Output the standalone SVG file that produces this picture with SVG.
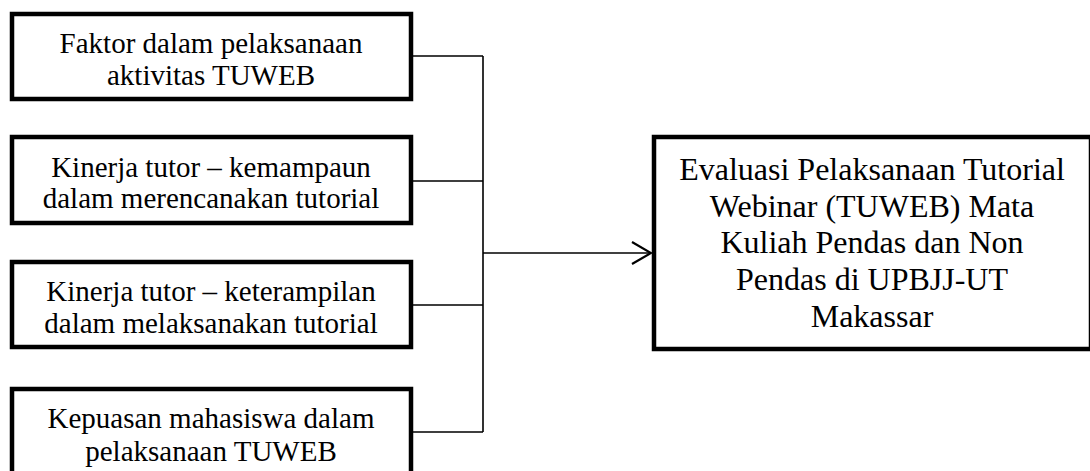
<svg xmlns="http://www.w3.org/2000/svg" width="1090" height="471" viewBox="0 0 1090 471">
<style>
.box{fill:#fff;stroke:#000;stroke-width:4.5}
.t{font-family:"Liberation Serif","Times New Roman",serif;font-size:29px;fill:#000;text-anchor:middle}
.tr{font-family:"Liberation Serif","Times New Roman",serif;font-size:32px;fill:#000;text-anchor:middle}
.c{fill:none;stroke:#000;stroke-width:1.6}
</style>
<defs>
<marker id="arr" markerWidth="22" markerHeight="24" refX="20" refY="12" orientation="auto" markerUnits="userSpaceOnUse" orient="auto">
<path d="M1,1 L20,12 L1,23" fill="none" stroke="#000" stroke-width="2.2"/>
</marker>
</defs>
<rect width="1090" height="471" fill="#fff"/>
<g id="connectors">
<path class="c" d="M413,56 H483 M413,181 H483 M413,305 H483 M413,432 H483 M483,56 V432"/>
<path class="c" d="M483,253 H651" marker-end="url(#arr)"/>
</g>
<g id="n1">
<rect class="box" x="12" y="14" width="399" height="85"/>
<text class="t" x="211" y="53">Faktor dalam pelaksanaan</text>
<text class="t" x="211" y="85">aktivitas TUWEB</text>
</g>
<g id="n2">
<rect class="box" x="12" y="137" width="399" height="86"/>
<text class="t" x="211" y="177">Kinerja tutor – kemampaun</text>
<text class="t" x="211" y="208">dalam merencanakan tutorial</text>
</g>
<g id="n3">
<rect class="box" x="12" y="262" width="399" height="85"/>
<text class="t" x="211" y="301">Kinerja tutor – keterampilan</text>
<text class="t" x="211" y="333">dalam melaksanakan tutorial</text>
</g>
<g id="n4">
<rect class="box" x="12" y="389" width="399" height="110"/>
<text class="t" x="211" y="428">Kepuasan mahasiswa dalam</text>
<text class="t" x="211" y="461">pelaksanaan TUWEB</text>
</g>
<g id="n5">
<rect class="box" x="654" y="137" width="437" height="212"/>
<text class="tr" x="872" y="180">Evaluasi Pelaksanaan Tutorial</text>
<text class="tr" x="872" y="217">Webinar (TUWEB) Mata</text>
<text class="tr" x="872" y="253">Kuliah Pendas dan Non</text>
<text class="tr" x="872" y="290">Pendas di UPBJJ-UT</text>
<text class="tr" x="872" y="327">Makassar</text>
</g>
</svg>
